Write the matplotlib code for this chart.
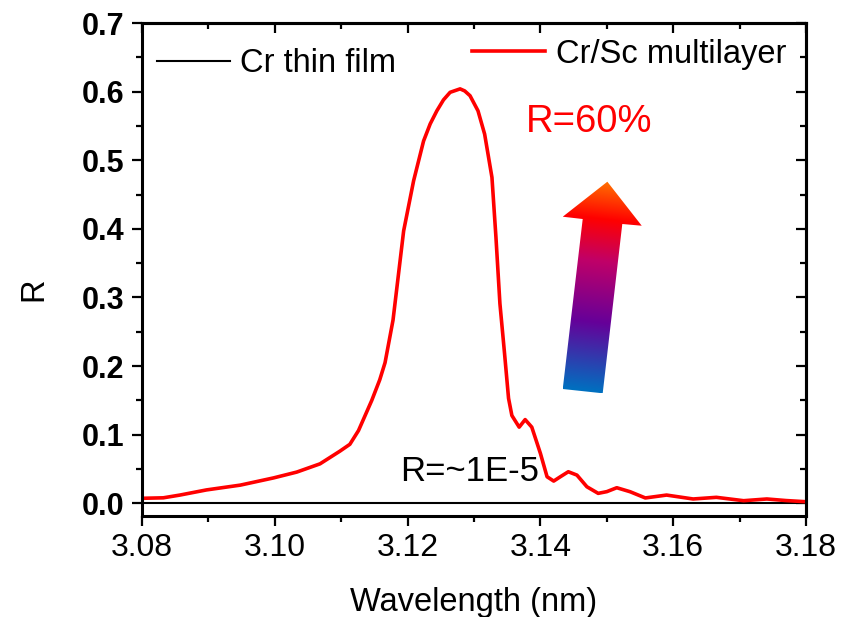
import numpy as np
import matplotlib
matplotlib.use("Agg")
import matplotlib.pyplot as plt
from matplotlib.lines import Line2D
from matplotlib.patches import Polygon
from matplotlib.colors import LinearSegmentedColormap
from matplotlib.ticker import MultipleLocator

plt.rcParams["font.family"] = ["Liberation Sans", "DejaVu Sans"]

# Cr/Sc multilayer reflectivity
wl = [3.0800, 3.0832, 3.0857, 3.0897, 3.0948, 3.0998, 3.1033, 3.1068, 3.1098,
      3.1113, 3.1126, 3.1146, 3.1158, 3.1166, 3.1178, 3.1194, 3.1209, 3.1224,
      3.1234, 3.1244, 3.1254, 3.1264, 3.1279, 3.1286, 3.1294, 3.1306, 3.1316,
      3.1327, 3.1333, 3.1339, 3.1346, 3.1352, 3.1357, 3.1368, 3.1377, 3.1387,
      3.1400, 3.1410, 3.1420, 3.1430, 3.1442, 3.1455, 3.1470, 3.1487, 3.1500,
      3.1515, 3.1535, 3.1558, 3.1590, 3.1630, 3.1665, 3.1706, 3.1741, 3.1770,
      3.1800]
r_ml = [0.0073, 0.0080, 0.0120, 0.0195, 0.0265, 0.0370, 0.0455, 0.0575, 0.0760,
        0.0860, 0.1060, 0.1500, 0.1800, 0.2050, 0.2670, 0.3970, 0.4700, 0.5280,
        0.5530, 0.5720, 0.5880, 0.5990, 0.6040, 0.6010, 0.5940, 0.5720, 0.5380,
        0.4750, 0.3880, 0.2910, 0.2180, 0.1530, 0.1280, 0.1110, 0.1220, 0.1110,
        0.0727, 0.0387, 0.0324, 0.0387, 0.0460, 0.0411, 0.0241, 0.0145, 0.0170,
        0.0227, 0.0169, 0.0078, 0.0120, 0.0063, 0.0087, 0.0038, 0.0063, 0.0040,
        0.0023]

# Cr thin film, R ~ 1E-5
wl_cr = [3.08, 3.18]
r_cr = [1e-5, 1e-5]

fig = plt.figure(figsize=(8.47, 6.17), dpi=100)
ax = fig.add_axes([0.1677, 0.1637, 0.7839, 0.799])

ax.plot(wl_cr, r_cr, color="black", lw=1.5)
ax.plot(wl, r_ml, color="#ff0000", lw=2.6, solid_joinstyle="round")

ax.xaxis.set_major_locator(MultipleLocator(0.02))
ax.xaxis.set_minor_locator(MultipleLocator(0.01))
ax.yaxis.set_major_locator(MultipleLocator(0.1))
ax.yaxis.set_minor_locator(MultipleLocator(0.05))
ax.xaxis.set_major_formatter(lambda v, p: f"{v:.2f}")
ax.yaxis.set_major_formatter(lambda v, p: f"{v:.1f}")

ax.tick_params(which="both", direction="out", width=1.6, top=False, right=False)
ax.tick_params(which="major", length=7.5)
ax.tick_params(which="minor", length=4)
ax.tick_params(axis="x", labelsize=23, pad=5)
ax.tick_params(axis="y", labelsize=22, pad=5)
for lab in ax.get_yticklabels():
    lab.set_fontweight("bold")
for s in ax.spines.values():
    s.set_linewidth(2.2)

# mirrored ticks pointing inward on top and right
top = ax.secondary_xaxis("top")
top.xaxis.set_major_locator(MultipleLocator(0.02))
top.xaxis.set_minor_locator(MultipleLocator(0.01))
top.tick_params(which="both", direction="in", width=1.6, labeltop=False)
top.tick_params(which="major", length=7.5)
top.tick_params(which="minor", length=4)
top.spines["top"].set_linewidth(2.2)
right = ax.secondary_yaxis("right")
right.yaxis.set_major_locator(MultipleLocator(0.1))
right.yaxis.set_minor_locator(MultipleLocator(0.05))
right.tick_params(which="both", direction="in", width=1.6, labelright=False)
right.tick_params(which="major", length=7.5)
right.tick_params(which="minor", length=4)
right.spines["right"].set_linewidth(2.2)

ax.set_xlabel("Wavelength (nm)", fontsize=23.5, labelpad=17)
ax.set_ylabel("R", fontsize=23.5)
ax.yaxis.set_label_coords(-0.14, 0.46)

# two separate legend entries at slightly different heights
leg1 = ax.legend(handles=[Line2D([], [], color="black", lw=1.5)],
                 labels=["Cr thin film"], loc="center left",
                 bbox_to_anchor=(0.022, 0.917), frameon=False, fontsize=23.5,
                 handlelength=2.24, handletextpad=0.32, borderpad=0,
                 borderaxespad=0)
ax.add_artist(leg1)
ax.legend(handles=[Line2D([], [], color="#ff0000", lw=2.6)],
          labels=["Cr/Sc multilayer"], loc="center left",
          bbox_to_anchor=(0.497, 0.937), frameon=False, fontsize=23.5,
          handlelength=2.24, handletextpad=0.32, borderpad=0, borderaxespad=0)

ax.text(0.673, 0.799, "R=60%", transform=ax.transAxes, color="#ff0000",
        fontsize=27.5, ha="center", va="center")
ax.text(3.1188, 0.0465, "R=~1E-5", color="black", fontsize=25, ha="left",
        va="center")

# gradient arrow (axes fraction)
arrow_pts = [(0.6336, 0.2576), (0.6938, 0.2489), (0.7233, 0.5923),
             (0.7526, 0.5888), (0.7008, 0.6781), (0.6336, 0.6071),
             (0.6637, 0.6024)]
arrow_cmap = LinearSegmentedColormap.from_list(
    "arr", [(0.0, "#0070c0"), (0.33, "#660099"), (0.62, "#c00068"),
            (0.82, "#ff0000"), (1.0, "#ff7000")])

pts = np.array(arrow_pts)
x0, y0 = pts.min(axis=0)
x1, y1 = pts.max(axis=0)
wpx = 664.0
hpx = 493.0
base = (pts[0] + pts[1]) / 2
tip = pts[4]
d = (tip - base) * [wpx, hpx]
gx, gy = np.meshgrid(np.linspace(x0, x1, 200), np.linspace(y0, y1, 400))
t = ((gx - base[0]) * wpx * d[0] + (gy - base[1]) * hpx * d[1]) / (d @ d)
t = np.clip(t, 0, 1)
poly = Polygon(arrow_pts, closed=True, transform=ax.transAxes,
               facecolor="none", edgecolor="none")
ax.add_patch(poly)
im = ax.imshow(t, cmap=arrow_cmap, origin="lower", extent=(x0, x1, y0, y1),
               transform=ax.transAxes, aspect="auto", interpolation="bilinear",
               vmin=0, vmax=1, zorder=3)
im.set_clip_path(poly)

ax.set_xlim(3.08, 3.18)
ax.set_ylim(-0.0185, 0.7)

fig.savefig("out.png", dpi=100)
